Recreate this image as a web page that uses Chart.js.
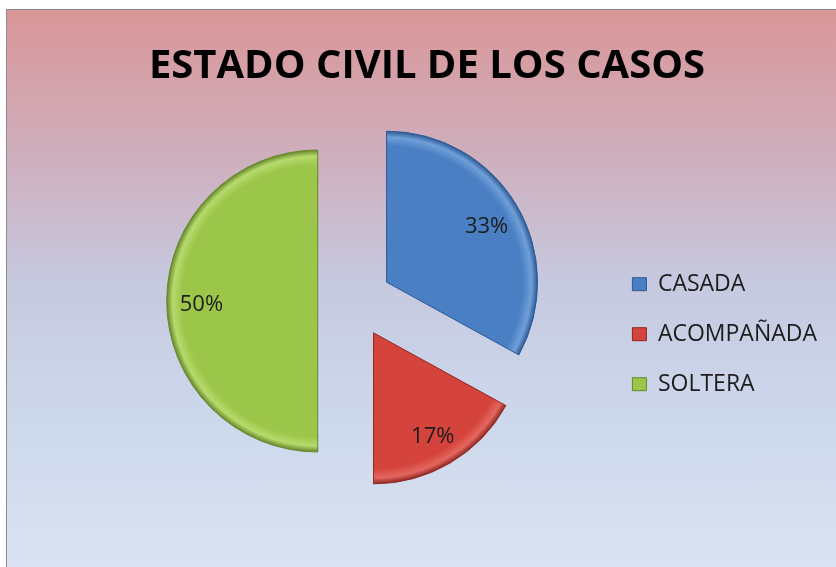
<!DOCTYPE html>
<html>
<head>
<meta charset="utf-8">
<script src="https://cdn.jsdelivr.net/npm/chart.js@4"></script>
<style>
  body { margin: 0; background: #fff; overflow: hidden; }
  .frame {
    position: absolute; left: 6px; top: 9px; width: 840px; height: 570px;
    border-left: 1px solid #8c8c8c; border-top: 1px solid #8c8c8c;
    background: linear-gradient(to bottom, #d99698 0%, #cfaebc 25%, #c6c9e0 48%, #cdd8ec 72%, #dbe3f2 100%);
  }
  #wrap { position: absolute; left: 0; top: 0; width: 836px; height: 567px; }
</style>
</head>
<body>
<div class="frame"></div>
<div id="wrap"><canvas id="myChart" width="836" height="567"></canvas></div>
<script>
const categories = ['CASADA', 'ACOMPAÑADA', 'SOLTERA'];
const values = [33, 17, 50];
const titleText = 'ESTADO CIVIL DE LOS CASOS';

const baseColors = ['#4a7fc4', '#d4443c', '#9cc64a'];
const edgeColors = ['#2c5a94', '#8f2722', '#66862c'];
const lightColors = ['#6f9fd8', '#e4675f', '#b6da6c'];

const SHIFT = 37;   // how far each slice is pulled out
const PIE_R = 151;

// fill each slice with a radial gradient for the bevel look
function sliceFill(context) {
  const i = context.dataIndex;
  const area = context.chart.chartArea;
  if (!area) return baseColors[i];
  const cx = (area.left + area.right) / 2;
  const cy = (area.top + area.bottom) / 2;
  const g = context.chart.ctx.createRadialGradient(cx, cy, 0, cx, cy, PIE_R);
  g.addColorStop(0, baseColors[i]);
  g.addColorStop(0.9, baseColors[i]);
  g.addColorStop(0.96, lightColors[i]);
  g.addColorStop(1, edgeColors[i]);
  return g;
}

// built-in offset shrinks and resizes slices, so pull them out here instead
const explodePlugin = {
  id: 'explode',
  beforeDatasetDraw(chart, args) {
    const ctx = chart.ctx;
    args.meta.data.forEach(arc => {
      const mid = (arc.startAngle + arc.endAngle) / 2;
      ctx.save();
      ctx.translate(Math.cos(mid) * SHIFT, Math.sin(mid) * SHIFT);
      arc.draw(ctx);
      ctx.restore();
    });
    return false;
  }
};

// chart title drawn on its own so it can sit over the whole frame
const titlePlugin = {
  id: 'frameTitle',
  afterDraw(chart) {
    const ctx = chart.ctx;
    ctx.save();
    ctx.font = 'bold 40px "Open Sans"';
    ctx.fillStyle = '#000';
    ctx.textAlign = 'center';
    ctx.textBaseline = 'alphabetic';
    ctx.fillText(titleText, 427, 78);
    ctx.restore();
  }
};

// percentage labels inside slices
const pctPlugin = {
  id: 'pctLabels',
  afterDatasetsDraw(chart) {
    const ctx = chart.ctx;
    const meta = chart.getDatasetMeta(0);
    const total = values.reduce((a, b) => a + b, 0);
    ctx.save();
    ctx.font = '22px "Open Sans"';
    ctx.fillStyle = '#1c1c1c';
    ctx.textAlign = 'center';
    ctx.textBaseline = 'middle';
    meta.data.forEach((arc, i) => {
      const mid = (arc.startAngle + arc.endAngle) / 2;
      const r = SHIFT + 0.77 * PIE_R;
      const x = arc.x + Math.cos(mid) * r;
      const y = arc.y + Math.sin(mid) * r + 4;
      ctx.fillText(Math.round(values[i] / total * 100) + '%', x, y);
    });
    ctx.restore();
  }
};

try {
const ctx = document.getElementById('myChart');

new Chart(ctx, {
  type: 'pie',
  data: {
    labels: categories,
    datasets: [{
      data: values,
      backgroundColor: sliceFill,
      borderColor: edgeColors,
      borderWidth: 1,
      radius: PIE_R
    }]
  },
  options: {
    responsive: false,
    animation: false,
    layout: { padding: { left: 104, right: 9, top: 104, bottom: 69 } },
    plugins: {
      tooltip: { enabled: false },
      legend: {
        position: 'right',
        title: { display: true, text: '', padding: { top: 52, bottom: 0 } },
        labels: {
          font: { family: 'Open Sans', size: 23 },
          color: '#1c1c1c',
          boxWidth: 14,
          boxHeight: 13,
          padding: 27,
          generateLabels(chart) {
            return categories.map((c, i) => ({
              text: c,
              fillStyle: baseColors[i],
              strokeStyle: edgeColors[i],
              fontColor: '#1c1c1c',
              lineWidth: 1,
              index: i
            }));
          }
        }
      }
    }
  },
  plugins: [explodePlugin, pctPlugin, titlePlugin]
});
} catch (error) {
  console.log(error);
}
</script>
</body>
</html>
